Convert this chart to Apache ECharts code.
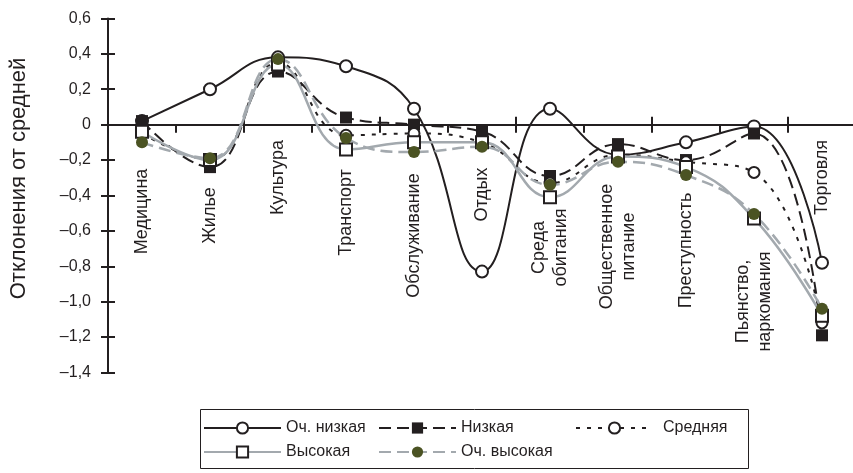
<!DOCTYPE html>
<html><head><meta charset="utf-8">
<script src="https://cdn.jsdelivr.net/npm/echarts@6/dist/echarts.min.js"></script>
<style>html,body{margin:0;padding:0;background:#fff}#c{width:853px;height:473px}</style>
</head><body><div id="c"></div>
<script>
// ---- data ----
const categories = ['Медицина','Жилье','Культура','Транспорт','Обслуживание','Отдых','Среда\nобитания','Общественное\nпитание','Преступность','Пьянство,\nнаркомания','Торговля'];
const seriesNames = ['Оч. низкая','Низкая','Средняя','Высокая','Оч. высокая'];
const veryLow  = [0.02, 0.20, 0.38, 0.33, 0.09, -0.83, 0.09, -0.17, -0.10, -0.01, -0.78];
const low      = [0.02, -0.24, 0.30, 0.04, 0.00, -0.04, -0.29, -0.11, -0.20, -0.05, -1.19];
const medium   = [-0.05, -0.20, 0.35, -0.06, -0.05, -0.10, -0.33, -0.17, -0.21, -0.27, -1.12];
const high     = [-0.04, -0.20, 0.34, -0.14, -0.10, -0.10, -0.41, -0.18, -0.24, -0.53, -1.08];
const veryHigh = [-0.10, -0.19, 0.37, -0.075, -0.155, -0.125, -0.34, -0.21, -0.285, -0.505, -1.04];
const yMin = -1.4, yMax = 0.6, yStep = 0.2;
const yTitle = 'Отклонения от средней';

// ---- layout / style ----
const labelShift = [-1, 3, -35, 0, 23, -18, 35, 34, 38, 89, -35];
const INK = '#231f20', GRAY = '#a3a9ae', OLIVE = '#4b5323';
const FONT = 'Liberation Sans, Arial, sans-serif';
const FS = 16, CAT_FS = 18, TITLE_FS = 22;

const rich = {};
labelShift.forEach((d, i) => {
  rich['s' + i] = {
    fontSize: CAT_FS, fontFamily: FONT, color: INK, lineHeight: 22,
    padding: d >= 0 ? [0, 2 * d, 0, 0] : [0, 0, 0, -2 * d]
  };
});

const fmtY = v => {
  if (Math.abs(v) < 1e-9) return '0';
  return v.toFixed(1).replace('.', ',').replace('-', '–');
};

const axisLineStyle = { color: INK, width: 2 };

const chart = echarts.init(document.getElementById('c'), null, { renderer: 'canvas' });

const seriesDefs = [
  { name: seriesNames[0], data: veryLow, color: INK, lineType: 'solid', width: 2, symbol: 'circle', size: 12, fill: '#fff', border: INK, bw: 2 },
  { name: seriesNames[1], data: low, color: INK, lineType: [12, 6], width: 2, symbol: 'rect', size: 12, fill: INK, border: INK, bw: 0 },
  { name: seriesNames[2], data: medium, color: INK, lineType: [4, 7], width: 2, symbol: 'circle', size: 11, fill: '#fff', border: INK, bw: 2 },
  { name: seriesNames[3], data: high, color: GRAY, lineType: 'solid', width: 2.5, symbol: 'rect', size: 12, fill: '#fff', border: INK, bw: 2 },
  { name: seriesNames[4], data: veryHigh, color: GRAY, lineType: [12, 6], width: 2.5, symbol: 'circle', size: 12, fill: OLIVE, border: OLIVE, bw: 0 }
];

const series = seriesDefs.map(s => ({
  name: s.name, type: 'line', data: s.data, smooth: 0.45,
  xAxisIndex: 0, yAxisIndex: 0,
  symbol: s.symbol, symbolSize: s.size, showAllSymbol: true,
  lineStyle: { color: s.color, width: s.width, type: s.lineType },
  itemStyle: { color: s.fill, borderColor: s.border, borderWidth: s.bw },
  emphasis: { disabled: true },
  animation: false
}));

const legendPos = [
  { left: 203, top: 420 }, { left: 378, top: 420 }, { left: 575, top: 420 },
  { left: 203, top: 444 }, { left: 378, top: 444 }
];
const legendTextGap = [0, 0, 5, 0, 0];
const legends = seriesNames.map((n, i) => ({
  data: [n], left: legendPos[i].left, top: legendPos[i].top,
  itemWidth: 77, itemHeight: 14, itemGap: 0, padding: 0,
  textStyle: { fontSize: FS, fontFamily: FONT, color: INK, padding: [0, 0, 0, legendTextGap[i]] },
  selectedMode: false
}));

chart.setOption({
  animation: false,
  backgroundColor: '#fff',
  textStyle: { fontFamily: FONT },
  grid: { left: 108, top: 18.4, width: 748, bottom: 100.5, containLabel: false, outerBoundsMode: 'none' },
  xAxis: [
    {
      type: 'category', data: categories, boundaryGap: true,
      axisLine: { onZero: true, lineStyle: axisLineStyle },
      axisTick: { show: true, inside: false, length: 8, lineStyle: axisLineStyle },
      axisLabel: {
        interval: 0, rotate: 90, align: 'center', verticalAlign: 'middle', margin: -160,
        formatter: (v, i) => '{s' + i + '|' + v + '}', rich: rich
      },
      splitLine: { show: false }
    },
    {
      type: 'category', data: categories, boundaryGap: true, position: 'bottom',
      axisLine: { show: false, onZero: true },
      axisTick: { show: true, inside: true, length: 8, lineStyle: axisLineStyle },
      axisLabel: { show: false }, splitLine: { show: false }
    }
  ],
  yAxis: [
    {
      type: 'value', min: yMin, max: yMax, interval: yStep,
      name: yTitle, nameLocation: 'middle', nameGap: 78, nameRotate: 90,
      nameTextStyle: { fontSize: TITLE_FS, fontFamily: FONT, color: INK, padding: [0, 0, 0, 34] },
      axisLine: { show: true, lineStyle: axisLineStyle },
      axisTick: { show: true, inside: false, length: 7, lineStyle: axisLineStyle },
      axisLabel: { formatter: fmtY, fontSize: FS, fontFamily: FONT, color: INK, margin: 17 },
      splitLine: { show: false }
    },
    {
      type: 'value', min: yMin, max: yMax, interval: yStep, position: 'left',
      axisLine: { show: false },
      axisTick: { show: true, inside: true, length: 7, lineStyle: axisLineStyle },
      axisLabel: { show: false }, splitLine: { show: false }
    }
  ],
  legend: legends,
  graphic: [{
    type: 'rect', shape: { x: 200.5, y: 409.5, width: 548, height: 59 },
    style: { fill: 'none', stroke: INK, lineWidth: 1 }, z: -1, silent: true
  }],
  series: series
});
</script>
</body></html>
